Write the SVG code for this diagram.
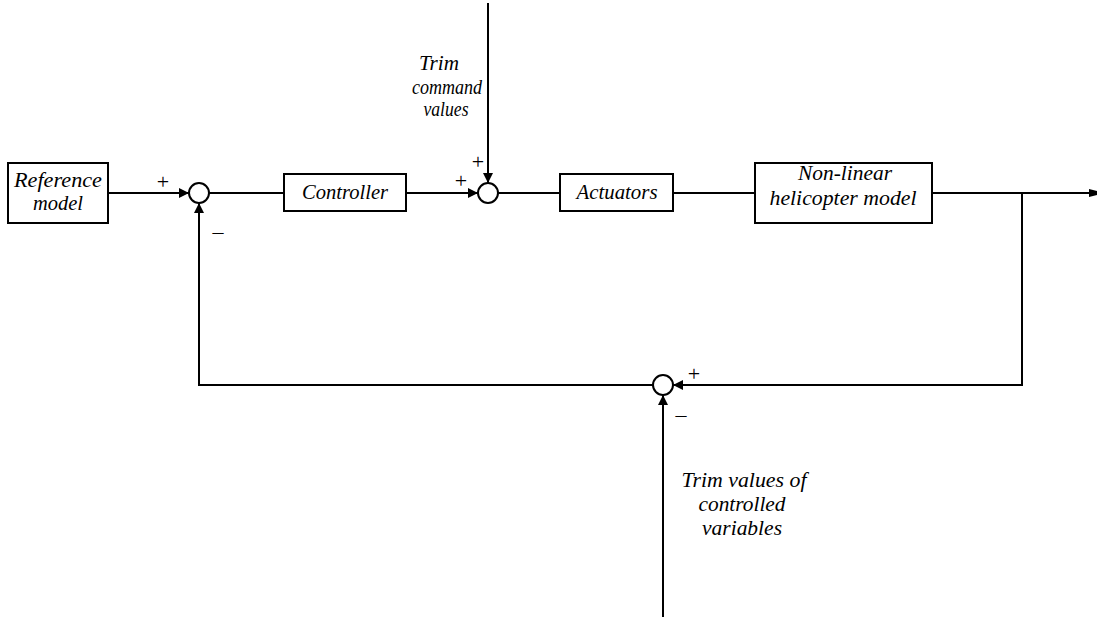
<svg xmlns="http://www.w3.org/2000/svg" width="1098" height="617" viewBox="0 0 1098 617">
<style>
.box{fill:#fff;stroke:#000;stroke-width:2}
.sum{fill:#fff;stroke:#000;stroke-width:2}
.ln{fill:none;stroke:#000;stroke-width:2}
.t{font-family:"Liberation Serif","DejaVu Serif","Times New Roman",serif;font-style:italic;font-size:21px;fill:#000;text-anchor:middle}
.s{font-family:"Liberation Serif","DejaVu Serif","Times New Roman",serif;font-size:22px;fill:#000;text-anchor:middle}
</style>
<defs>
<marker id="ah" viewBox="0 0 10 10" refX="10" refY="5" markerWidth="10" markerHeight="10" markerUnits="userSpaceOnUse" orient="auto">
<path d="M0,0 L10,5 L0,10 Z" fill="#000"/>
</marker>
<marker id="ae" viewBox="0 0 8 10" refX="8" refY="5" markerWidth="8" markerHeight="10" markerUnits="userSpaceOnUse" orient="auto">
<path d="M0,1 L8,3 L8,7 L0,9 Z" fill="#000"/>
</marker>
</defs>
<g id="connectors">
<path class="ln" d="M108,193 L189,193" marker-end="url(#ah)"/>
<path class="ln" d="M209,193 L284,193"/>
<path class="ln" d="M406,193 L478,193" marker-end="url(#ah)"/>
<path class="ln" d="M488,3 L488,183" marker-end="url(#ah)"/>
<path class="ln" d="M498,193 L560,193"/>
<path class="ln" d="M673,193 L755,193"/>
<path class="ln" d="M932,193 L1097,193" marker-end="url(#ae)"/>
<path class="ln" d="M1022,193 L1022,385 L673,385" marker-end="url(#ah)"/>
<path class="ln" d="M663,617 L663,395" marker-end="url(#ah)"/>
<path class="ln" d="M653,385 L199,385 L199,203" marker-end="url(#ah)"/>
</g>
<g id="reference-model">
<rect class="box" x="8" y="163" width="100" height="60"/>
<text class="t" x="58" y="187" textLength="88" lengthAdjust="spacingAndGlyphs">Reference</text>
<text class="t" x="58" y="210" textLength="50" lengthAdjust="spacingAndGlyphs">model</text>
</g>
<g id="sum1">
<circle class="sum" cx="199" cy="193" r="10"/>
<text class="s" x="163" y="189">+</text>
<text class="s" x="218" y="239">–</text>
</g>
<g id="controller">
<rect class="box" x="284" y="174" width="122" height="37"/>
<text class="t" x="345" y="199" textLength="86" lengthAdjust="spacingAndGlyphs">Controller</text>
</g>
<g id="sum2">
<circle class="sum" cx="488" cy="193" r="10"/>
<text class="s" x="461" y="188">+</text>
<text class="s" x="478" y="169">+</text>
</g>
<g id="trim-command">
<text class="t" x="439" y="70" textLength="40" lengthAdjust="spacingAndGlyphs">Trim</text>
<text class="t" x="447" y="94" textLength="70" lengthAdjust="spacingAndGlyphs">command</text>
<text class="t" x="446" y="116" textLength="45" lengthAdjust="spacingAndGlyphs">values</text>
</g>
<g id="actuators">
<rect class="box" x="560" y="174" width="113" height="37"/>
<text class="t" x="617" y="199" textLength="81" lengthAdjust="spacingAndGlyphs">Actuators</text>
</g>
<g id="helicopter-model">
<rect class="box" x="755" y="163" width="177" height="60"/>
<text class="t" x="845" y="180" textLength="94" lengthAdjust="spacingAndGlyphs">Non-linear</text>
<text class="t" x="843" y="205" textLength="147" lengthAdjust="spacingAndGlyphs">helicopter model</text>
</g>
<g id="sum3">
<circle class="sum" cx="663" cy="385" r="10"/>
<text class="s" x="694" y="381">+</text>
<text class="s" x="681" y="422">–</text>
</g>
<g id="trim-values">
<text class="t" x="744" y="487" textLength="125" lengthAdjust="spacingAndGlyphs">Trim values of</text>
<text class="t" x="742" y="511" textLength="87" lengthAdjust="spacingAndGlyphs">controlled</text>
<text class="t" x="742" y="535" textLength="80" lengthAdjust="spacingAndGlyphs">variables</text>
</g>
</svg>
